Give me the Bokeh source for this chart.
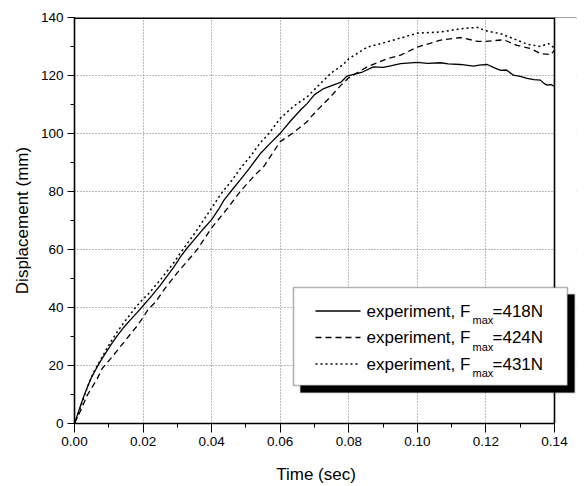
from bokeh.plotting import figure
from bokeh.models import (BoxAnnotation, Label, Arrow, Span, Range1d, SingleIntervalTicker,
                          NumeralTickFormatter)
from bokeh.embed import file_html
from bokeh.resources import INLINE

# ---- data ----
t_418 = [0, 0.001, 0.002, 0.003, 0.004, 0.005, 0.0066, 0.008, 0.0105, 0.0125, 0.0144,
         0.0165, 0.0183, 0.02, 0.0225, 0.025, 0.027, 0.029, 0.031, 0.0329, 0.035, 0.0375,
         0.04, 0.042, 0.0436, 0.046, 0.0484, 0.051, 0.0543, 0.057, 0.0601, 0.063, 0.066,
         0.0679, 0.07, 0.0727, 0.075, 0.0776, 0.0795, 0.0814, 0.084, 0.0872, 0.09, 0.0922,
         0.0951, 0.1, 0.103, 0.1067, 0.109, 0.1125, 0.1164, 0.118, 0.1204, 0.1225, 0.1243,
         0.126, 0.128, 0.13, 0.132, 0.134, 0.1359, 0.137, 0.1379, 0.139, 0.14]
d_418 = [0, 3.5, 7, 10.3, 13.3, 16, 19.5, 22.3, 26.9, 30.3, 33.2,
         36, 38.3, 40.6, 44, 47.6, 50.8, 54, 57.6, 60.6, 63.5, 67,
         70.3, 73.8, 77, 80.6, 84.1, 88, 93.2, 96.5, 100.2, 104.3, 108.2,
         110.4, 113.4, 115.5, 116.5, 117.6, 119.8, 120.4, 121.2, 123, 122.8, 123.3,
         124.1, 124.5, 124.2, 124.4, 124, 123.8, 123.2, 123.6, 123.8, 122.6, 121.8,
         121.9, 120.1, 119.7, 119, 118.6, 118.4, 117.2, 116.7, 116.9, 116.2]

t_424 = [0, 0.001, 0.002, 0.0037, 0.0066, 0.0081, 0.0105, 0.0144, 0.0183, 0.02, 0.0216,
         0.0236, 0.026, 0.03, 0.0358, 0.04, 0.0445, 0.0484, 0.0525, 0.0552, 0.0562, 0.06,
         0.0635, 0.0679, 0.0688, 0.0712, 0.0747, 0.0776, 0.08, 0.0854, 0.0912, 0.0951,
         0.1, 0.1068, 0.1126, 0.1175, 0.12, 0.1252, 0.1291, 0.133, 0.136, 0.1389, 0.14]
d_424 = [0, 2.5, 5, 9.7, 15.4, 19, 22.3, 28, 33.7, 36.6, 39.5,
         41.8, 46, 52, 60, 67.5, 74, 80.1, 85.5, 88.6, 90.4, 97.2,
         100, 104.1, 105.5, 108.5, 112.7, 116.5, 119.2, 123, 125.8, 127,
         129.8, 132.2, 133.1, 131.8, 131.8, 132.3, 130.4, 129.3, 127.5, 127.2, 128.7]

t_431 = [0, 0.001, 0.002, 0.003, 0.004, 0.0055, 0.008, 0.0105, 0.0125, 0.0144, 0.0165,
         0.0178, 0.02, 0.0212, 0.025, 0.029, 0.031, 0.035, 0.04, 0.0426, 0.046, 0.0484,
         0.0513, 0.054, 0.0567, 0.06, 0.064, 0.0679, 0.0747, 0.0785, 0.08, 0.0854, 0.0912,
         0.1, 0.1067, 0.1125, 0.1175, 0.12, 0.1243, 0.128, 0.132, 0.1359, 0.1382, 0.14]
d_431 = [0, 3, 6.5, 10, 13.2, 17.5, 22.8, 28, 31.6, 34.8, 38,
         40, 43, 44.2, 49.5, 55.5, 59, 65.5, 74.3, 79, 84, 88,
         92.1, 96.5, 100, 105.2, 109.5, 112.7, 120.7, 123.9, 125.8, 129.8, 131.6,
         134.6, 135, 136.1, 136.6, 135.4, 134.4, 132.7, 130.8, 130, 131, 129.5]

labels = ["418N", "424N", "431N"]
dashes = ["solid", "6 4", "2 3"]
X_MAX, Y_MAX = 0.14, 140

FONT = "Liberation Sans"

# The plotting frame is widened by EXT px beyond x = 0.14 so that the legend box
# (which sticks out past the right border in the reference) is not clipped.
AX_W = 480          # px width of the 0..0.14 axis
EXT = 22            # extra frame width for the legend overhang
p = figure(width=584, height=486, output_backend="svg", toolbar_location=None,
           x_range=Range1d(0, X_MAX * (AX_W + EXT) / AX_W), y_range=Range1d(0, Y_MAX),
           min_border_left=74, min_border_right=584 - 74 - AX_W - EXT,
           min_border_top=17, min_border_bottom=61)
p.background_fill_color = "white"
p.border_fill_color = "white"
p.outline_line_color = None

# axes
p.xaxis.ticker = SingleIntervalTicker(interval=0.02, num_minor_ticks=2)
p.yaxis.ticker = SingleIntervalTicker(interval=20, num_minor_ticks=2)
p.xaxis.formatter = NumeralTickFormatter(format="0.00")
p.xaxis.bounds = (0, X_MAX + 1e-4)
for ax in (p.xaxis, p.yaxis):
    ax.axis_line_width = 1.6
    ax.axis_line_color = "black"
    ax.major_tick_line_color = "black"
    ax.minor_tick_line_color = "black"
    ax.major_tick_in = 0
    ax.minor_tick_in = 0
    ax.major_label_text_font = FONT
    ax.major_label_text_font_size = "13.5px"
    ax.major_label_text_color = "black"
    ax.axis_label_text_font = FONT
    ax.axis_label_text_font_size = "17px"
    ax.axis_label_text_font_style = "normal"
    ax.axis_label_text_color = "black"
p.xaxis.major_tick_out = 9
p.xaxis.minor_tick_out = 4
p.yaxis.major_tick_out = 7
p.yaxis.minor_tick_out = 4
p.xaxis.major_label_standoff = 4
p.yaxis.major_label_standoff = 4
# trailing no-break spaces re-centre the title under the 0..0.14 axis
p.xaxis.axis_label = "Time (sec)" + "\u00a0" * 4
p.yaxis.axis_label = "Displacement (mm)"
p.xaxis.axis_label_standoff = 16
p.yaxis.axis_label_standoff = 6

for g in (p.xgrid, p.ygrid):
    g.grid_line_color = "#777777"
    g.grid_line_dash = "1 2"
    g.grid_line_width = 1

# curves
p.line(t_418, d_418, line_color="black", line_width=1.3, line_dash=dashes[0])
p.line(t_424, d_424, line_color="black", line_width=1.3, line_dash=dashes[1])
p.line(t_431, d_431, line_color="black", line_width=1.5, line_dash=dashes[2])

# top border, then blank the overhang strip, then right border at x = 0.14
p.add_layout(Span(location=Y_MAX, dimension="width", line_color="black", line_width=3.2))
p.add_layout(BoxAnnotation(left=X_MAX, fill_color="white", fill_alpha=1, line_color=None))
p.add_layout(Span(location=X_MAX, dimension="height", line_color="black", line_width=1.6))

# ---- custom legend (screen units, relative to the frame, y upward) ----
BL, BR, BB, BT = 219, 493, 38, 136     # legend box edges
SH = 7                                  # shadow offset

def scr_box(l, r, b, t, fill, line, lw=1.6):
    p.add_layout(BoxAnnotation(left=l, right=r, bottom=b, top=t,
                               left_units="screen", right_units="screen",
                               bottom_units="screen", top_units="screen",
                               fill_color=fill, fill_alpha=1,
                               line_color=line, line_width=lw))

scr_box(BL + SH, BR + SH, BB - SH, BT - SH, "black", "black")   # shadow
scr_box(BL, BR, BB, BT, "white", "black")                       # box

rows = [112.5, 86, 59.5]
for lab, dash, yy in zip(labels, dashes, rows):
    p.add_layout(Arrow(end=None, x_start=241, y_start=yy, x_end=286, y_end=yy,
                       start_units="screen", end_units="screen",
                       line_color="black", line_width=1.3, line_dash=dash))
    p.add_layout(Label(x=292, y=yy, x_units="screen", y_units="screen",
                       text="experiment, F", text_font=FONT, text_font_size="17px",
                       text_baseline="middle", text_color="black"))
    p.add_layout(Label(x=398, y=yy - 9, x_units="screen", y_units="screen",
                       text="max", text_font=FONT, text_font_size="11px",
                       text_baseline="middle", text_color="black"))
    p.add_layout(Label(x=418, y=yy, x_units="screen", y_units="screen",
                       text="=" + lab, text_font=FONT, text_font_size="17px",
                       text_baseline="middle", text_color="black"))

open("out.html", "w").write(file_html(p, INLINE))
